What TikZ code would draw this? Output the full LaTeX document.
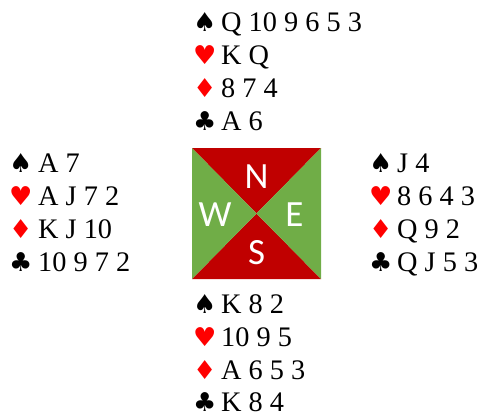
\documentclass[tikz,border=0pt]{standalone}
\usepackage{fontspec}
\setmainfont{Liberation Serif}
\newfontfamily\suitfont{DejaVu Sans}
\newfontfamily\compassfont{Carlito}
\definecolor{cred}{HTML}{C00000}
\definecolor{cgreen}{HTML}{70AD47}
\definecolor{suitred}{HTML}{FF0000}
\tikzset{
  suit/.style={anchor=base west, inner sep=0pt, font=\suitfont\fontsize{26}{26}\selectfont},
  blacksuit/.style={suit, text=black},
  redsuit/.style={suit, text=suitred},
  cards/.style={anchor=base west, inner sep=0pt, font=\fontsize{28.3}{32}\selectfont},
  compass/.style={inner sep=0pt, text=white, font=\compassfont\fontsize{37}{37}\selectfont}
}
\begin{document}
\begin{tikzpicture}[x=1pt,y=-1pt]
\useasboundingbox (0,0) rectangle (480,416);
% compass square
\coordinate (tl) at (192,148);
\coordinate (tr) at (321,148);
\coordinate (bl) at (192,279);
\coordinate (br) at (321,279);
\coordinate (ctr) at (256.5,213.5);
\fill[cred] (tl) -- (tr) -- (ctr) -- cycle;
\fill[cred] (bl) -- (br) -- (ctr) -- cycle;
\fill[cgreen] (tl) -- (bl) -- (ctr) -- cycle;
\fill[cgreen] (tr) -- (br) -- (ctr) -- cycle;
\node[compass] (cN) at (256.5,176.7) {N};
\node[compass] (cW) at (215,215) {W};
\node[compass] (cE) at (294.5,215) {E};
\node[compass] (cS) at (256.5,253) {S};
% North
\node[blacksuit] (nS) at (193,31) {♠};
\node[cards] (nSc) at (221,31) {Q 10 9 6 5 3};
\node[redsuit] (nH) at (193,64) {♥};
\node[cards] (nHc) at (221,64) {K Q};
\node[redsuit] (nD) at (193,97) {♦};
\node[cards] (nDc) at (221,97) {8 7 4};
\node[blacksuit] (nC) at (193,130) {♣};
\node[cards] (nCc) at (221,130) {A 6};
% West
\node[blacksuit] (wS) at (9,172) {♠};
\node[cards] (wSc) at (38,172) {A 7};
\node[redsuit] (wH) at (9,205) {♥};
\node[cards] (wHc) at (38,205) {A J 7 2};
\node[redsuit] (wD) at (9,238) {♦};
\node[cards] (wDc) at (38,238) {K J 10};
\node[blacksuit] (wC) at (9,271) {♣};
\node[cards] (wCc) at (38,271) {10 9 7 2};
% East
\node[blacksuit] (eS) at (369,172) {♠};
\node[cards] (eSc) at (397,172) {J 4};
\node[redsuit] (eH) at (369,205) {♥};
\node[cards] (eHc) at (397,205) {8 6 4 3};
\node[redsuit] (eD) at (369,238) {♦};
\node[cards] (eDc) at (397,238) {Q 9 2};
\node[blacksuit] (eC) at (369,271) {♣};
\node[cards] (eCc) at (397,271) {Q J 5 3};
% South
\node[blacksuit] (sS) at (193,313) {♠};
\node[cards] (sSc) at (221,313) {K 8 2};
\node[redsuit] (sH) at (193,346) {♥};
\node[cards] (sHc) at (221,346) {10 9 5};
\node[redsuit] (sD) at (193,379) {♦};
\node[cards] (sDc) at (221,379) {A 6 5 3};
\node[blacksuit] (sC) at (193,411) {♣};
\node[cards] (sCc) at (221,411) {K 8 4};
\end{tikzpicture}
\end{document}
